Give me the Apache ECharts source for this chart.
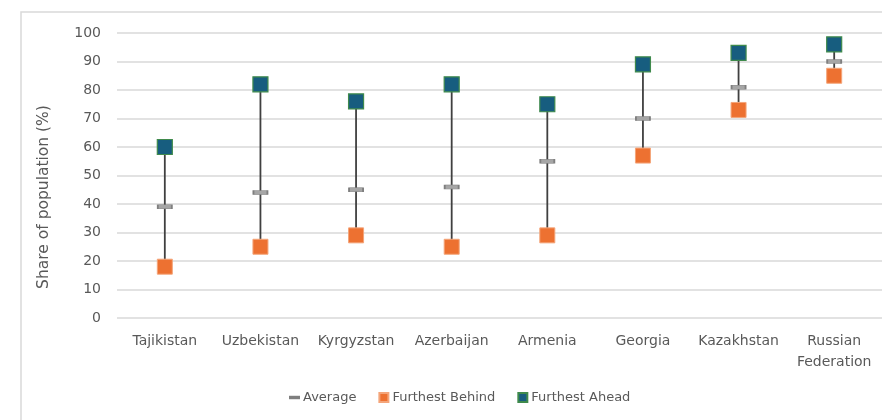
<!DOCTYPE html>
<html>
<head>
<meta charset="utf-8">
<script src="https://cdn.jsdelivr.net/npm/echarts@6/dist/echarts.min.js"></script>
<style>
  html, body { margin: 0; padding: 0; background: #fff; }
  #chart { width: 882px; height: 420px; }
</style>
</head>
<body>
<div id="chart"></div>
<script>
// Share of population by country: furthest behind, average and furthest ahead groups
const countries = ['Tajikistan', 'Uzbekistan', 'Kyrgyzstan', 'Azerbaijan', 'Armenia', 'Georgia', 'Kazakhstan', 'Russian\nFederation'];
const furthestAhead = [60, 82, 76, 82, 75, 89, 93, 96];
const average = [39, 44, 45, 46, 55, 70, 81, 90];
const furthestBehind = [18, 25, 29, 25, 29, 57, 73, 85];
const yTicks = [0, 10, 20, 30, 40, 50, 60, 70, 80, 90, 100];

const FONT = '"DejaVu Sans", sans-serif';
const TEXT = '#595959';

const chart = echarts.init(document.getElementById('chart'), null, { renderer: 'canvas' });

// high-low connector from the lowest to the highest value in each category
const rangeData = countries.map((c, i) => [i, furthestBehind[i], furthestAhead[i]]);

chart.setOption({
  animation: false,
  textStyle: { fontFamily: FONT },
  graphic: [
    {
      type: 'rect',
      shape: { x: 21, y: 12, width: 900, height: 440 },
      style: { fill: 'none', stroke: '#d9d9d9', lineWidth: 1.5 },
      silent: true
    },
    {
      type: 'text',
      x: 44, y: 197,
      rotation: Math.PI / 2,
      style: {
        text: 'Share of population (%)',
        fill: TEXT,
        font: '15.5px ' + FONT,
        align: 'center',
        verticalAlign: 'middle'
      }
    }
  ],
  grid: { left: 117, right: -3, top: 33, bottom: 102 },
  legend: {
    bottom: 11,
    left: 284,
    itemGap: 22,
    itemWidth: 9,
    itemHeight: 9,
    textStyle: { color: TEXT, fontSize: 13, fontFamily: FONT, padding: [0, 0, 0, -1] },
    data: [
      { name: 'Average', icon: 'path://M0,4.2h10v1.6h-10z' },
      { name: 'Furthest Behind', icon: 'rect' },
      { name: 'Furthest Ahead', icon: 'rect' }
    ]
  },
  xAxis: {
    type: 'category',
    data: countries,
    axisLine: { show: false },
    axisTick: { show: false },
    axisLabel: {
      interval: 0, hideOverlap: false,
      color: TEXT, fontSize: 14, margin: 13, lineHeight: 21, fontFamily: FONT
    }
  },
  yAxis: {
    type: 'value',
    min: 0, max: 100, interval: 10,
    axisLine: { show: false },
    axisTick: { show: false },
    splitLine: { lineStyle: { color: '#d9d9d9', width: 1.5 } },
    axisLabel: {
      color: TEXT, fontSize: 14, margin: 16, fontFamily: FONT,
      formatter: v => (yTicks.includes(v) ? String(v) : '')
    }
  },
  series: [
    {
      type: 'custom',
      name: 'range',
      silent: true,
      z: 1,
      data: rangeData,
      renderItem: (params, api) => {
        const lo = api.coord([api.value(0), api.value(1)]);
        const hi = api.coord([api.value(0), api.value(2)]);
        return {
          type: 'line',
          shape: { x1: lo[0], y1: lo[1], x2: hi[0], y2: hi[1] },
          style: { stroke: '#404040', lineWidth: 1.8 }
        };
      }
    },
    {
      name: 'Average',
      type: 'scatter',
      z: 3,
      data: average,
      symbol: 'rect',
      symbolSize: [14, 4],
      itemStyle: { color: '#a6a6a6', borderColor: '#7f7f7f', borderWidth: 1, opacity: 1 }
    },
    {
      name: 'Furthest Behind',
      type: 'scatter',
      z: 4,
      data: furthestBehind,
      symbol: 'rect',
      symbolSize: 15,
      itemStyle: { color: '#ed7131', borderColor: '#f4a57a', borderWidth: 1, opacity: 1 }
    },
    {
      name: 'Furthest Ahead',
      type: 'scatter',
      z: 4,
      data: furthestAhead,
      symbol: 'rect',
      symbolSize: 15,
      itemStyle: { color: '#175d7f', borderColor: '#3f8a4c', borderWidth: 1.2, opacity: 1 }
    }
  ]
});
</script>
</body>
</html>
